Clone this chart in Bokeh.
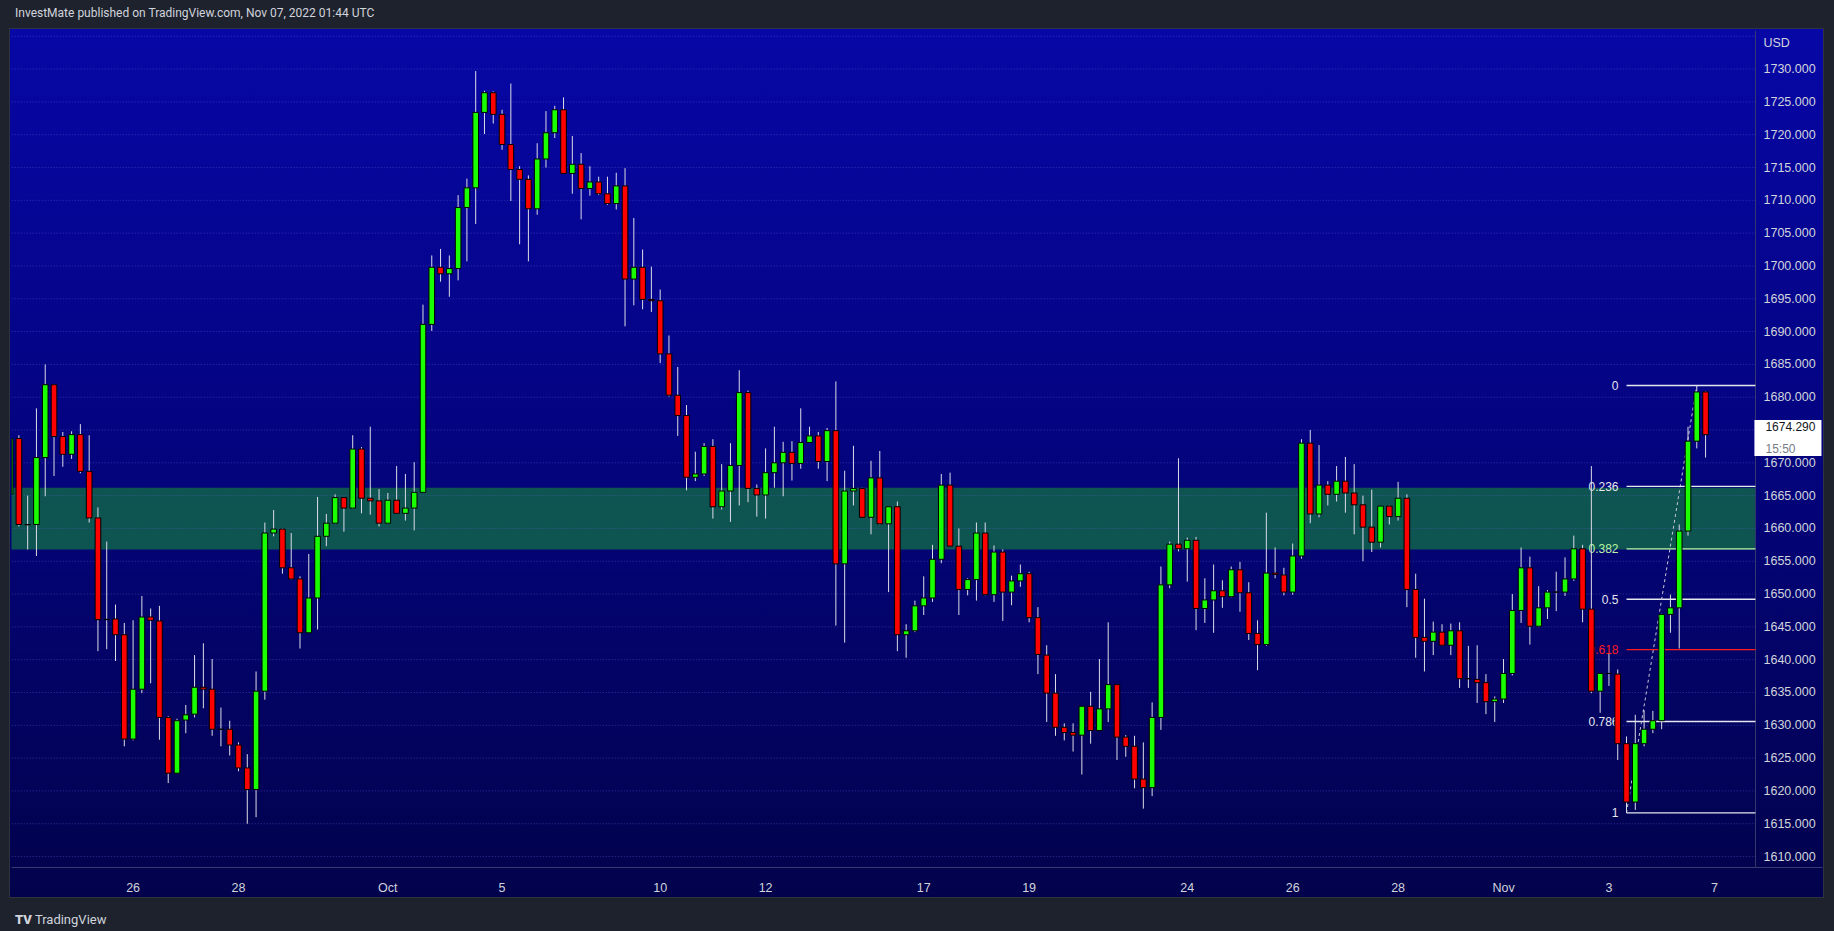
from bokeh.plotting import figure
from bokeh.models import Range1d, FixedTicker, Label, Div, Spacer, ColumnDataSource, Span
from bokeh.layouts import column, row
from bokeh.embed import file_html
from bokeh.resources import INLINE
from bokeh.core.properties import value

# ---------------- data (4H candles) ----------------
opens = [1665.2, 1673.7, 1660.6, 1660.6, 1670.8, 1681.9, 1674.0, 1671.3, 1674.3, 1668.7,
         1661.6, 1646.1, 1646.2, 1643.8, 1627.9, 1635.5, 1646.5, 1645.9, 1631.2, 1622.7,
         1630.8, 1631.7, 1635.8, 1635.5, 1629.4, 1629.4, 1627.0, 1623.5, 1620.2, 1635.2,
         1659.3, 1659.9, 1654.0, 1652.3, 1644.1, 1649.4, 1658.8, 1660.8, 1664.7, 1663.1,
         1672.1, 1664.6, 1664.2, 1660.8, 1664.3, 1662.3, 1663.1, 1665.5, 1691.1, 1699.8,
         1698.8, 1699.6, 1708.9, 1711.9, 1723.4, 1726.4, 1723.1, 1718.5, 1714.7, 1713.2,
         1708.7, 1716.3, 1720.3, 1723.8, 1714.1, 1715.5, 1711.8, 1712.8, 1711.0, 1709.5,
         1712.2, 1698.0, 1699.8, 1694.9, 1694.7, 1686.6, 1680.3, 1677.2, 1667.8, 1668.3,
         1672.5, 1663.3, 1665.7, 1669.6, 1680.7, 1666.1, 1665.1, 1668.5, 1670.0, 1671.6,
         1669.9, 1673.1, 1674.1, 1670.2, 1674.9, 1654.6, 1665.7, 1666.1, 1661.7, 1667.7,
         1660.7, 1663.3, 1643.8, 1644.4, 1648.2, 1649.4, 1655.3, 1666.6, 1657.3, 1650.7,
         1652.2, 1659.3, 1649.9, 1656.4, 1650.3, 1652.0, 1653.1, 1646.4, 1640.7, 1634.9,
         1629.7, 1628.9, 1628.5, 1632.9, 1629.2, 1632.5, 1636.2, 1628.2, 1626.8, 1621.8,
         1620.5, 1631.2, 1651.4, 1657.6, 1656.9, 1658.2, 1647.8, 1649.1, 1650.5, 1649.6,
         1653.7, 1650.2, 1644.0, 1642.3, 1653.2, 1652.9, 1650.3, 1655.8, 1673.0, 1662.2,
         1666.6, 1665.2, 1667.2, 1665.4, 1663.6, 1660.2, 1657.9, 1663.4, 1661.8, 1664.6,
         1650.7, 1643.4, 1642.8, 1644.2, 1642.2, 1644.4, 1637.1, 1637.0, 1636.5, 1633.6,
         1634.0, 1637.9, 1647.5, 1654.0, 1645.1, 1647.9, 1650.3, 1650.3, 1652.3, 1656.9,
         1647.7, 1635.2, 1637.9, 1637.8, 1627.2, 1618.3, 1627.2, 1629.4, 1630.7, 1646.9,
         1647.9, 1659.6, 1673.3, 1680.8]
highs = [1675.0, 1674.2, 1665.0, 1678.3, 1685.0, 1682.0, 1674.7, 1674.8, 1675.9, 1674.2,
         1663.2, 1658.0, 1648.4, 1645.6, 1646.0, 1649.7, 1647.8, 1648.2, 1631.4, 1631.0,
         1633.1, 1640.7, 1642.5, 1640.1, 1632.7, 1630.7, 1627.4, 1625.6, 1638.2, 1660.9,
         1662.8, 1660.0, 1659.3, 1652.7, 1656.1, 1664.8, 1662.2, 1665.2, 1664.8, 1674.2,
         1672.4, 1675.5, 1666.0, 1665.4, 1669.5, 1668.3, 1670.1, 1694.1, 1701.6, 1702.6,
         1701.6, 1710.8, 1713.3, 1729.7, 1726.7, 1726.6, 1723.8, 1727.8, 1715.2, 1713.8,
         1718.7, 1723.6, 1724.4, 1725.7, 1719.8, 1717.2, 1715.2, 1713.6, 1713.6, 1714.2,
         1714.9, 1707.3, 1702.5, 1699.9, 1696.4, 1689.4, 1684.6, 1678.8, 1671.7, 1673.0,
         1673.6, 1669.8, 1673.0, 1684.1, 1681.0, 1666.7, 1672.2, 1675.5, 1673.2, 1673.3,
         1678.3, 1675.5, 1674.7, 1675.3, 1682.4, 1668.8, 1672.6, 1666.2, 1670.3, 1671.8,
         1663.3, 1664.1, 1645.4, 1649.0, 1652.7, 1657.5, 1668.3, 1668.5, 1660.0, 1652.4,
         1660.9, 1660.9, 1657.4, 1656.8, 1652.8, 1654.5, 1653.4, 1648.0, 1642.2, 1637.8,
         1630.3, 1630.3, 1632.9, 1635.1, 1640.1, 1645.7, 1636.3, 1628.5, 1628.4, 1627.4,
         1633.5, 1654.2, 1658.0, 1670.7, 1658.6, 1658.7, 1652.4, 1654.5, 1652.1, 1654.2,
         1654.9, 1651.8, 1646.0, 1662.4, 1657.1, 1654.0, 1657.7, 1673.6, 1675.0, 1672.7,
         1667.2, 1669.5, 1670.9, 1669.8, 1665.0, 1665.9, 1663.4, 1663.5, 1667.1, 1665.2,
         1653.1, 1649.3, 1645.8, 1645.4, 1645.5, 1645.7, 1642.1, 1642.2, 1637.8, 1634.4,
         1640.1, 1650.0, 1657.1, 1655.7, 1651.2, 1650.6, 1653.4, 1655.6, 1658.9, 1657.5,
         1669.5, 1637.9, 1640.9, 1638.5, 1628.3, 1631.6, 1632.3, 1632.2, 1647.0, 1649.9,
         1660.6, 1675.5, 1681.78, 1680.9]
lows = [1664.0, 1660.3, 1656.8, 1655.8, 1664.9, 1668.0, 1669.4, 1670.6, 1668.4, 1660.9,
        1641.3, 1641.6, 1639.8, 1626.8, 1627.7, 1634.9, 1636.4, 1627.8, 1621.2, 1622.7,
        1628.8, 1631.2, 1632.6, 1628.4, 1626.8, 1625.4, 1623.0, 1615.0, 1616.0, 1633.9,
        1658.8, 1653.1, 1652.2, 1641.7, 1644.1, 1644.6, 1657.3, 1660.7, 1659.5, 1663.0,
        1662.3, 1662.1, 1660.3, 1660.7, 1662.2, 1661.2, 1659.7, 1665.4, 1690.1, 1697.6,
        1695.3, 1697.8, 1700.7, 1706.4, 1720.1, 1721.7, 1717.7, 1709.9, 1703.3, 1700.7,
        1707.8, 1715.0, 1719.5, 1714.1, 1711.0, 1707.1, 1710.7, 1710.8, 1709.3, 1708.6,
        1690.8, 1694.0, 1693.4, 1693.0, 1685.2, 1680.1, 1674.1, 1665.8, 1667.2, 1668.0,
        1661.5, 1662.9, 1661.0, 1663.5, 1664.0, 1661.8, 1661.5, 1666.2, 1664.9, 1667.3,
        1669.1, 1673.0, 1669.1, 1667.2, 1645.2, 1642.6, 1663.5, 1661.7, 1659.1, 1660.6,
        1650.3, 1641.3, 1640.3, 1644.2, 1646.8, 1648.8, 1654.7, 1657.3, 1646.8, 1649.8,
        1649.0, 1649.8, 1648.8, 1645.9, 1648.3, 1651.1, 1645.7, 1637.8, 1630.5, 1628.4,
        1627.7, 1626.0, 1622.5, 1627.2, 1629.2, 1630.5, 1624.7, 1625.2, 1620.4, 1617.3,
        1619.2, 1629.3, 1650.9, 1656.5, 1651.9, 1644.5, 1645.6, 1644.1, 1647.9, 1649.5,
        1647.3, 1643.0, 1638.4, 1642.1, 1652.4, 1649.8, 1649.9, 1655.4, 1660.8, 1661.7,
        1663.5, 1664.1, 1662.4, 1659.1, 1655.0, 1656.4, 1657.1, 1660.6, 1661.2, 1648.0,
        1640.3, 1638.2, 1640.7, 1642.1, 1640.7, 1635.7, 1635.7, 1633.4, 1631.7, 1630.5,
        1633.4, 1637.6, 1645.6, 1642.3, 1645.0, 1646.2, 1647.4, 1649.7, 1652.0, 1645.7,
        1634.9, 1631.9, 1636.0, 1624.7, 1616.64, 1617.1, 1626.8, 1628.8, 1629.4, 1644.1,
        1641.7, 1658.9, 1672.2, 1670.8]
closes = [1673.7, 1660.6, 1660.55, 1670.8, 1681.9, 1674.0, 1671.3, 1674.3, 1668.7, 1661.6,
          1646.1, 1646.15, 1643.8, 1627.9, 1635.5, 1646.5, 1646.0, 1631.2, 1622.7, 1630.7,
          1631.6, 1635.8, 1635.5, 1629.4, 1629.4, 1627.0, 1623.5, 1620.2, 1635.2, 1659.3,
          1659.9, 1654.0, 1652.3, 1644.1, 1649.4, 1658.8, 1660.8, 1664.7, 1663.1, 1672.1,
          1664.6, 1664.2, 1660.8, 1664.3, 1662.3, 1663.1, 1665.5, 1691.1, 1699.8, 1698.8,
          1699.6, 1708.9, 1711.9, 1723.4, 1726.4, 1723.1, 1718.5, 1714.7, 1713.2, 1708.7,
          1716.3, 1720.3, 1723.8, 1714.1, 1715.5, 1711.8, 1712.8, 1711.0, 1709.5, 1712.2,
          1698.0, 1699.8, 1694.9, 1694.7, 1686.6, 1680.3, 1677.2, 1667.8, 1668.3, 1672.5,
          1663.3, 1665.7, 1669.6, 1680.7, 1666.1, 1665.1, 1668.5, 1670.0, 1671.6, 1669.9,
          1673.1, 1674.1, 1670.2, 1674.9, 1654.6, 1665.7, 1666.1, 1661.7, 1667.7, 1660.7,
          1663.3, 1643.8, 1644.4, 1648.2, 1649.4, 1655.3, 1666.6, 1657.3, 1650.7, 1652.2,
          1659.3, 1649.9, 1656.4, 1650.3, 1652.0, 1653.1, 1646.4, 1640.8, 1634.9, 1629.7,
          1628.9, 1628.5, 1632.9, 1629.2, 1632.5, 1636.2, 1628.2, 1626.8, 1621.8, 1620.5,
          1631.2, 1651.4, 1657.6, 1656.9, 1658.2, 1647.8, 1649.1, 1650.5, 1649.6, 1653.7,
          1650.2, 1644.0, 1642.3, 1653.2, 1653.0, 1650.3, 1655.8, 1673.0, 1662.2, 1666.6,
          1665.2, 1667.2, 1665.4, 1663.6, 1660.2, 1657.9, 1663.4, 1661.8, 1664.6, 1650.7,
          1643.4, 1642.8, 1644.2, 1642.2, 1644.4, 1637.1, 1637.1, 1636.5, 1633.6, 1634.0,
          1637.9, 1647.5, 1654.0, 1645.1, 1647.9, 1650.3, 1650.3, 1652.3, 1656.9, 1647.7,
          1635.2, 1637.9, 1637.9, 1627.2, 1618.3, 1627.2, 1629.4, 1630.7, 1646.9, 1647.9,
          1659.6, 1673.3, 1680.8, 1674.29]

x_ticks = [14, 26, 43, 56, 74, 86, 104, 116, 134, 146, 158, 170, 182, 194]
x_tick_labels = ["26", "28", "Oct", "5", "10", "12", "17", "19", "24", "26", "28", "Nov", "3", "7"]
y_ticks = list(range(1610, 1735, 5))
grid_levels = list(range(1610, 1736, 5))
usd_tick = 1734

zone_low, zone_high = 1656.8, 1666.2
fib_start, fib_end = 184, 192
fib_high, fib_low = 1681.78, 1616.64
fib_levels = [0, 0.236, 0.382, 0.5, 0.618, 0.786, 1]
fib_labels = ["0", "0.236", "0.382", "0.5", "0.618", "0.786", "1"]
fib_colors = ["#e6e6ee", "#e6e6ee", "#b9f5a6", "#e6e6ee", "#ff1c1c", "#e6e6ee", "#e6e6ee"]
last_price = 1674.29
countdown = "15:50"

# ---------------- figure ----------------
X0, X1 = 0.16, 206.31      # full panel (candle pane + price scale)
PS = 198.68                # price-scale separator
Y0, Y1 = 1608.33, 1735.88
FONT = "Liberation Sans"
TXT = "#d1d4dc"

p = figure(width=1813, height=868, x_range=Range1d(X0, X1), y_range=Range1d(Y0, Y1),
           output_backend="svg", toolbar_location=None, y_axis_location="right",
           min_border_left=1, min_border_right=1, min_border_top=1, min_border_bottom=27)
p.background_fill_alpha = 0
p.border_fill_alpha = 0
p.outline_line_color = None
p.styles = {"background": "linear-gradient(to bottom, #0707a6 0%, #040482 45%, #02024c 100%)",
            "box-shadow": "0 0 0 1px #2f3340"}

# highlighted zone
p.quad(left=[X0 - 1], right=[PS], bottom=[zone_low], top=[zone_high],
       fill_color="#0e5552", line_color=None, level="image")

# dotted horizontal grid (stops at the price scale)
p.xgrid.visible = False
p.ygrid.visible = False
n_g = len(grid_levels)
p.segment(x0=[X0 - 1] * n_g, x1=[PS] * n_g, y0=grid_levels, y1=grid_levels,
          line_color="#5a5ad6", line_alpha=0.55, line_dash="1 2", line_width=1)

# price-scale separator
p.add_layout(Span(location=PS, dimension="height", line_color="#363a6e", line_width=1,
                  level="underlay"))

# axes
p.xaxis.ticker = FixedTicker(ticks=x_ticks)
p.xaxis.major_label_overrides = {t: s for t, s in zip(x_ticks, x_tick_labels)}
p.yaxis.ticker = FixedTicker(ticks=y_ticks + [usd_tick])
ov = {t: f"{t}.000" for t in y_ticks}
ov[usd_tick] = "USD"
p.yaxis.major_label_overrides = ov
for ax in (p.xaxis, p.yaxis):
    ax.major_tick_line_color = None
    ax.minor_tick_line_color = None
    ax.major_label_text_color = TXT
    ax.major_label_text_font = FONT
    ax.major_label_text_font_size = "12.5px"
p.xaxis.axis_line_color = "#363a6e"
p.yaxis.axis_line_color = None
p.xaxis.major_label_standoff = 7
p.yaxis.major_label_standoff = -65

# fibonacci
fib_prices = [fib_high - lv * (fib_high - fib_low) for lv in fib_levels]
n_f = len(fib_levels)
p.segment(x0=[fib_start] * n_f, x1=[PS] * n_f, y0=fib_prices, y1=fib_prices,
          line_color=fib_colors, line_width=1.3)
p.text(x=[fib_start] * n_f, y=fib_prices, text=fib_labels, text_color=fib_colors,
       text_align="right", text_baseline="middle", x_offset=-8,
       text_font_size="12px", text_font=value(FONT))
p.line(x=[fib_start, fib_end], y=[fib_low, fib_high], line_dash="3 3",
       line_color="#c8c8d8", line_width=1)

# candles
idx = list(range(len(opens)))
tops = [max(o, c) for o, c in zip(opens, closes)]
bots = [min(o, c) for o, c in zip(opens, closes)]
cols = ["#19ff00" if c >= o else "#ff0000" for o, c in zip(opens, closes)]
src = ColumnDataSource(dict(x=idx, h=highs, l=lows, t=tops, b=bots, c=cols))
p.segment(x0="x", x1="x", y0="l", y1="h", source=src, line_color="#dcdce6", line_width=1)
p.vbar(x="x", width=0.64, top="t", bottom="b", fill_color="c", line_color="black",
       line_width=1, source=src)

# last price box on the price scale (box anchored at its left edge, centred vertically)
p.add_layout(Label(x=PS - 0.12, y=1673.77, text=f"{last_price:.3f}", text_color="#131722",
                   text_font=FONT, text_font_size="12px", text_baseline="middle",
                   text_align="left", background_fill_color="white",
                   padding=dict(left=11, right=6, top=2, bottom=25)))
p.add_layout(Label(x=199.82, y=1672.09, text=countdown, text_color="#787b86",
                   text_font=FONT, text_font_size="12px", text_baseline="middle",
                   text_align="left"))

header = Div(text='<div style="padding-left:10px;line-height:14px;font-size:12px;'
                  'font-family:Roboto;color:#d1d4dc;white-space:nowrap">'
                  'InvestMate published on TradingView.com, Nov 07, 2022 01:44 UTC</div>',
             width=1826, height=19)
footer = Div(text='<div style="padding:9px 0 0 10px;line-height:18px;font-size:13px;'
                  'font-family:Roboto;color:#d1d4dc;white-space:nowrap">'
                  '<b style="font-weight:900">TV</b> TradingView</div>',
             width=1826, height=28)

layout = column(header,
                row(Spacer(width=10, height=868), p, Spacer(width=3, height=868)),
                footer,
                styles={"background-color": "#1e222d", "box-shadow": "0 0 0 8px #1e222d"})

open("out.html", "w").write(file_html(layout, INLINE, title="chart"))
